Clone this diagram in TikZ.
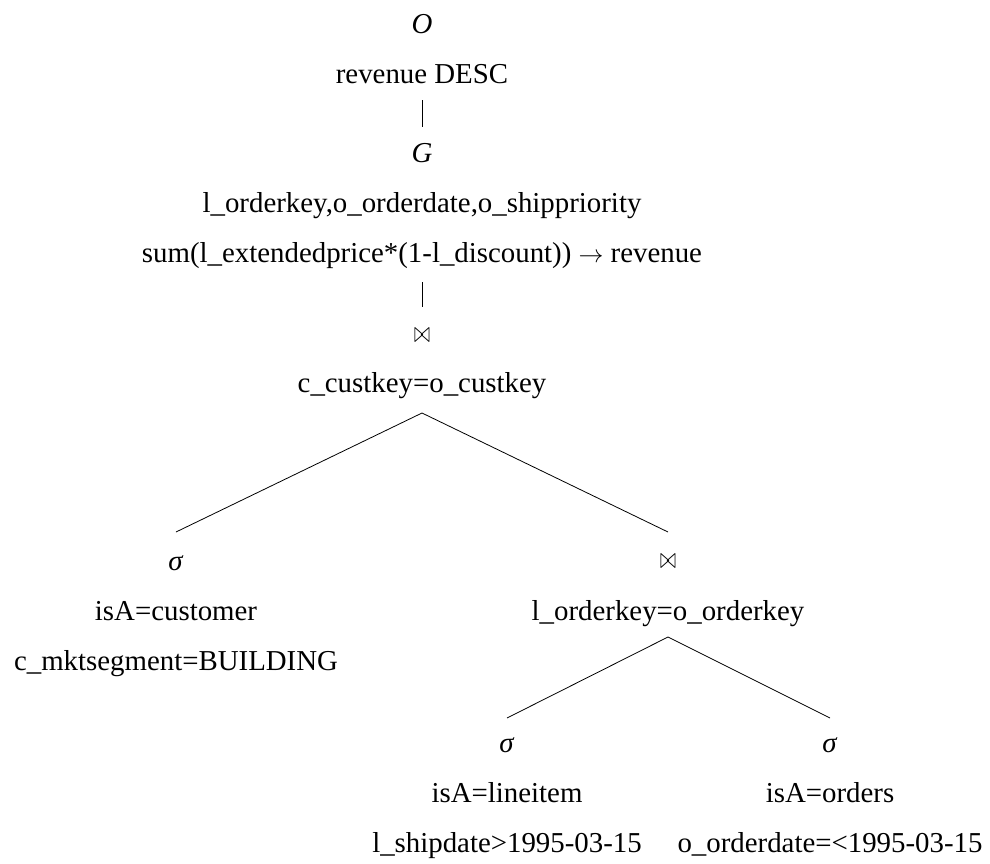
\documentclass[tikz,border=0pt]{standalone}
\usepackage{fontspec}
\setmainfont{Liberation Serif}
\usetikzlibrary{calc}
\begin{document}
\begin{tikzpicture}[x=1pt,y=-1pt,
  txt/.style={anchor=base, inner sep=0pt, font=\fontsize{28.85pt}{34pt}\selectfont},
  jn/.style={anchor=base, inner sep=0pt, font=\fontsize{20pt}{24pt}\selectfont},
  edge/.style={line width=0.8pt}]
\useasboundingbox (0,0) rectangle (990,863);
% order
\node[txt] (O) at (422,33) {\textit{O}};
\node[txt] (rev) at (422,83) {revenue DESC};
% group
\node[txt] (G) at (422,162) {\textit{G}};
\node[txt] (gkeys) at (422,212) {l\_orderkey,o\_orderdate,o\_shippriority};
\node[txt] (gagg) at (422,262) {sum(l\_extendedprice*(1-l\_discount)) $\rightarrow$ revenue};
% join 1
\node[jn] (J1) at (422,342) {\scalebox{0.95}[1.45]{$\bowtie$}};
\node[txt] (cust) at (422,392) {c\_custkey=o\_custkey};
% select customer
\node[txt] (sigC) at (176,570) {\textit{σ}};
\node[txt] (isC) at (176,620) {isA=customer};
\node[txt] (mkt) at (176,670) {c\_mktsegment=BUILDING};
% join 2
\node[jn] (J2) at (668,568) {\scalebox{0.95}[1.45]{$\bowtie$}};
\node[txt] (okey) at (668,620) {l\_orderkey=o\_orderkey};
% select lineitem
\node[txt] (sigL) at (507,752) {\textit{σ}};
\node[txt] (isL) at (507,802) {isA=lineitem};
\node[txt] (ship) at (507,852) {l\_shipdate>1995-03-15};
% select orders
\node[txt] (sigO) at (830,752) {\textit{σ}};
\node[txt] (isO) at (830,802) {isA=orders};
\node[txt] (odate) at (830,852) {o\_orderdate=<1995-03-15};
% connectors
\draw[edge] ($(rev.base)+(0,17)$) -- ($(G.base)+(0,-35)$);
\draw[edge] ($(gagg.base)+(0,20)$) -- ($(J1.base)+(0,-35)$);
\draw[edge] ($(sigC.base)+(0,-38)$) -- ($(cust.base)+(0,21)$) -- ($(J2.base)+(0,-36)$);
\draw[edge] ($(sigL.base)+(0,-34)$) -- ($(okey.base)+(0,17)$) -- ($(sigO.base)+(0,-34)$);
\end{tikzpicture}
\end{document}
